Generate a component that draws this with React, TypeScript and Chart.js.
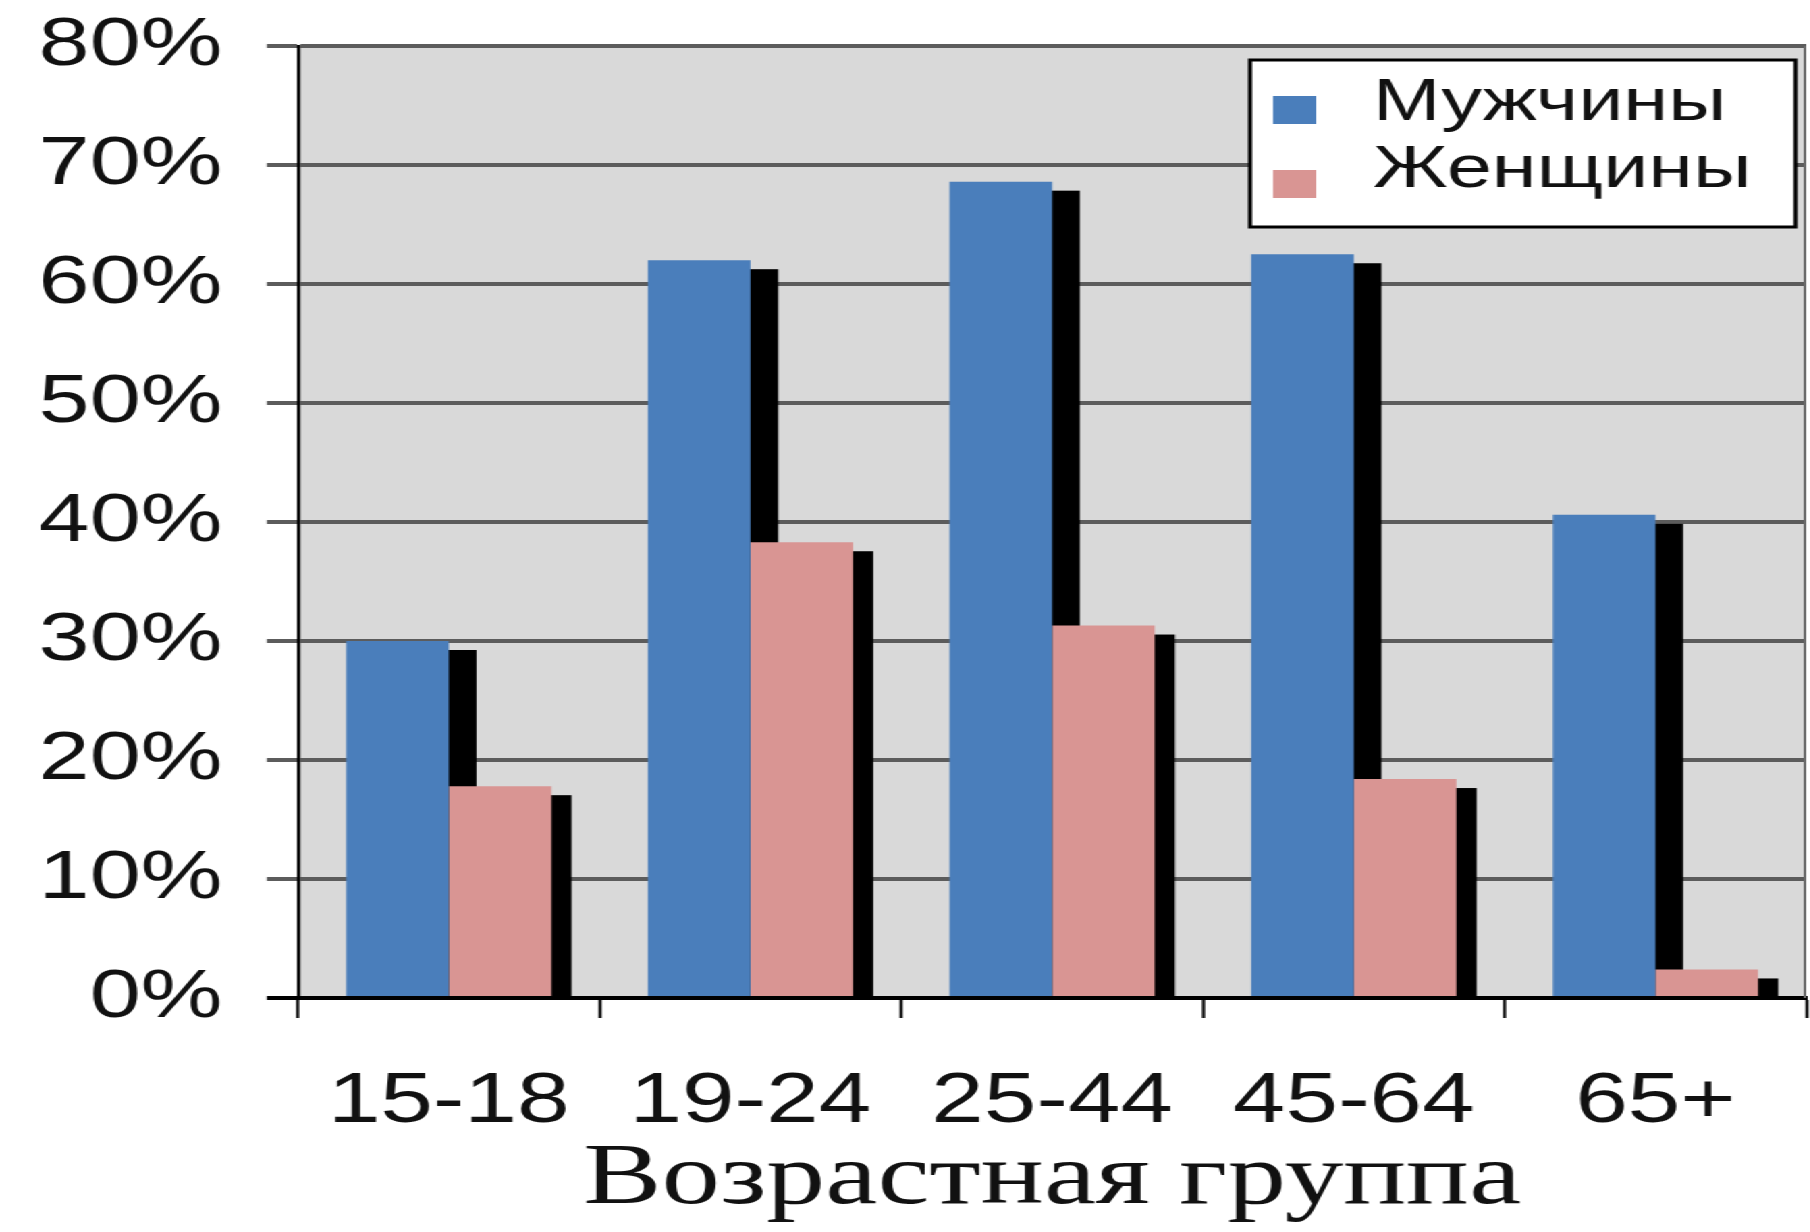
import { useEffect, useRef } from 'react';
import { Chart, registerables } from 'chart.js';

Chart.register(...registerables);

// ---- data ----
const categories = ['15-18', '19-24', '25-44', '45-64', '65+'];
const seriesNames = ['Мужчины', 'Женщины'];
const menValues = [30, 62, 68.6, 62.5, 40.6];
const womenValues = [17.8, 38.3, 31.3, 18.4, 2.4];
const axisTitle = 'Возрастная группа';
const yMin = 0;
const yMax = 80;
const yStep = 10;

// ---- styles ----
const STRETCH = 1.35;
const INNER_W = 1341;
const INNER_H = 1232;
const seriesColors = ['#4a7ebb', '#d99593'];
const shadowDX = [20.5, 15];
const shadowDY = 9;
const GRID = '#5c5c5c';
const SANS = "'Liberation Sans', Arial, sans-serif";
const SERIF = "'Liberation Serif', 'Times New Roman', serif";

const backgroundPlugin = {
  id: 'plotBackground',
  beforeDraw(chart: any) {
    const { ctx, chartArea } = chart;
    ctx.save();
    ctx.fillStyle = '#d9d9d9';
    ctx.fillRect(chartArea.left, chartArea.top, chartArea.right - chartArea.left, chartArea.bottom - chartArea.top);
    ctx.restore();
  },
  afterDatasetsDraw(chart: any) {
    const { ctx, chartArea } = chart;
    ctx.save();
    ctx.strokeStyle = '#6a6a6a';
    ctx.lineWidth = 2;
    ctx.beginPath();
    ctx.moveTo(chartArea.right - 1, chartArea.top);
    ctx.lineTo(chartArea.right - 1, chartArea.bottom);
    ctx.stroke();
    ctx.restore();
  },
};

const shadowPlugin = {
  id: 'barShadows',
  beforeDatasetsDraw(chart: any) {
    const { ctx, chartArea } = chart;
    ctx.save();
    ctx.beginPath();
    ctx.rect(chartArea.left, chartArea.top, chartArea.right - chartArea.left, chartArea.bottom - chartArea.top);
    ctx.clip();
    ctx.fillStyle = '#000';
    chart.data.datasets.forEach((_ds: any, i: number) => {
      const meta = chart.getDatasetMeta(i);
      meta.data.forEach((bar: any) => {
        const { x, y, width, base } = bar.getProps(['x', 'y', 'width', 'base'], true);
        const left = x - width / 2 + shadowDX[i];
        const top = y + shadowDY;
        if (base > top) ctx.fillRect(left, top, width, base - top);
      });
    });
    ctx.restore();
  },
};

const legendPlugin = {
  id: 'boxLegend',
  afterDraw(chart: any) {
    const { ctx, chartArea } = chart;
    const boxW = 404;
    const boxH = 167;
    const right = chartArea.right - 8;
    const left = right - boxW;
    const top = chartArea.top + 14;
    ctx.save();
    ctx.fillStyle = '#ffffff';
    ctx.fillRect(left, top, boxW, boxH);
    ctx.strokeStyle = '#000';
    ctx.lineWidth = 3;
    ctx.strokeRect(left, top, boxW, boxH);
    const swatchCY = [50, 124];
    const baselines = [60, 127];
    ctx.font = `60px ${SANS}`;
    ctx.textAlign = 'left';
    ctx.textBaseline = 'alphabetic';
    chart.data.datasets.forEach((ds: any, i: number) => {
      ctx.fillStyle = ds.backgroundColor;
      ctx.fillRect(left + 17, top + swatchCY[i] - 14, 32, 28);
      ctx.fillStyle = '#111';
      ctx.fillText(ds.label, left + 91, top + baselines[i]);
    });
    ctx.restore();
  },
};

export default function App() {
  const canvasRef = useRef<HTMLCanvasElement | null>(null);

  useEffect(() => {
    if (!canvasRef.current) return;
    const chart = new Chart(canvasRef.current, {
      type: 'bar',
      data: {
        labels: categories,
        datasets: [
          { label: seriesNames[0], data: menValues, backgroundColor: seriesColors[0], borderWidth: 0 },
          { label: seriesNames[1], data: womenValues, backgroundColor: seriesColors[1], borderWidth: 0 },
        ],
      },
      options: {
        animation: false,
        responsive: true,
        maintainAspectRatio: false,
        devicePixelRatio: 1,
        layout: { padding: { top: 46, right: 3, left: 0, bottom: 0 } },
        datasets: { bar: { categoryPercentage: 0.68, barPercentage: 1 } },
        plugins: {
          legend: { display: false },
          tooltip: { enabled: false },
        },
        scales: {
          x: {
            offset: true,
            afterFit: (scale: any) => { scale.height = 234; },
            grid: {
              display: true,
              offset: true,
              drawOnChartArea: false,
              drawTicks: true,
              tickLength: 20,
              tickColor: '#000',
              tickWidth: 2.2,
            },
            border: { display: true, color: '#000', width: 4 },
            ticks: {
              color: '#111',
              font: { family: SANS, size: 70 },
              padding: 43,
              maxRotation: 0,
              autoSkip: false,
            },
            title: {
              display: true,
              text: axisTitle,
              color: '#111',
              font: { family: SERIF, size: 87 },
              padding: { top: 0, bottom: 0 },
            },
          },
          y: {
            min: yMin,
            max: yMax,
            afterFit: (scale: any) => { scale.width = 220.7; },
            grid: {
              color: (c: any) => (c.tick && c.tick.value === 0 ? '#000' : GRID),
              lineWidth: 4,
              drawTicks: true,
              tickLength: 23,
              tickColor: (c: any) => (c.tick && c.tick.value === 0 ? '#000' : GRID),
              tickWidth: 4,
            },
            border: { display: true, color: '#000', width: 2.4 },
            ticks: {
              stepSize: yStep,
              color: '#111',
              font: { family: SANS, size: 68, lineHeight: 0.2 },
              padding: 33,
              callback: (v: any) => `${v}%`,
            },
          },
        },
      },
      plugins: [backgroundPlugin, shadowPlugin, legendPlugin],
    });
    return () => chart.destroy();
  }, []);

  return (
    <div
      style={{
        position: 'fixed',
        left: 0,
        top: 0,
        width: INNER_W,
        height: INNER_H,
        transform: `scaleX(${STRETCH})`,
        transformOrigin: 'left top',
        background: '#fff',
      }}
    >
      <canvas ref={canvasRef} />
    </div>
  );
}
